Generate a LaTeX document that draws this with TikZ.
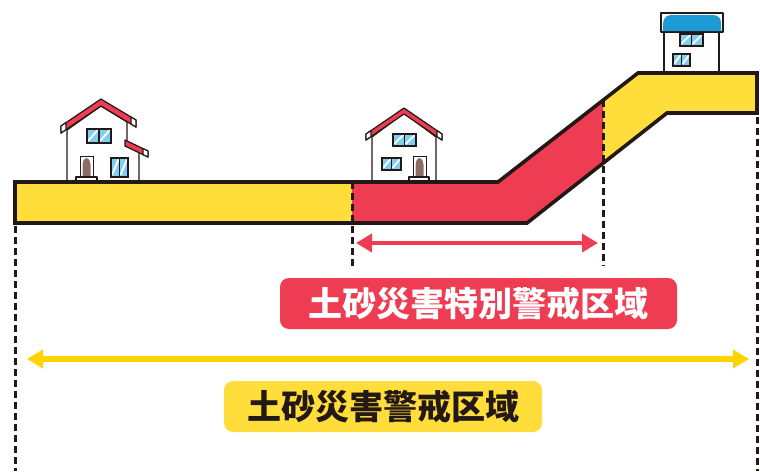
\documentclass[tikz,border=0pt]{standalone}
\usepackage{fontspec}
\newfontfamily\cjk{Noto Sans CJK JP}
\usetikzlibrary{arrows.meta}

\definecolor{bandyellow}{HTML}{FFDD3B}
\definecolor{arrowyellow}{HTML}{FFD400}
\definecolor{zonered}{HTML}{EE3D52}
\definecolor{inkblack}{HTML}{231815}
\definecolor{glass}{HTML}{7FCFF0}
\definecolor{roofblue}{HTML}{1E9AD6}
\definecolor{doorbrown}{HTML}{8B6B62}

% window with two panes: #1,#2 = top-left, #3,#4 = bottom-right
\newcommand\glasspane[4]{%
  \begin{scope}
    \clip (#1,#2) rectangle (#3,#4);
    \fill[glass] (#1,#2) rectangle (#3,#4);
    \draw[white, line width=1.8pt] ({#1+1},{#4-2}) -- ({#1+0.45*(#3-#1)},{#2+1});
    \draw[white, line width=1.8pt] ({(#1+#3)/2+1},{#4-2}) -- ({#1+0.95*(#3-#1)},{#2+1});
  \end{scope}
  \draw[inkblack, line width=1.1pt] (#1,#2) rectangle (#3,#4);
  \draw[inkblack, line width=1.1pt] ({(#1+#3)/2},#2) -- ({(#1+#3)/2},#4);
}
% door with arched brown leaf: frame corners as above
\newcommand\archeddoor[4]{%
  \filldraw[fill=white, draw=inkblack, line width=1pt] (#1,#2) rectangle (#3,#4);
  \fill[doorbrown] ({#1+2.5},#4) -- ({#1+2.5},{#2+9})
    .. controls ({#1+3},{#2+4}) and ({(#1+#3)/2-2},{#2+2}) .. ({(#1+#3)/2},{#2+2})
    .. controls ({(#1+#3)/2+2},{#2+2}) and ({#3-3},{#2+4}) .. ({#3-2.5},{#2+9})
    -- ({#3-2.5},#4) -- cycle;
}

\tikzset{
  houseline/.style={draw=inkblack, line width=1.2pt, line join=round},
  wall/.style={houseline, fill=white},
  redroof/.style={houseline, fill=zonered},
  bandline/.style={draw=inkblack, line width=3.6pt, line join=miter},
  guide/.style={draw=inkblack, line width=3pt, dash pattern=on 7pt off 4pt},
  zonelabel/.style={rounded corners=9pt, inner sep=0pt, font=\cjk\bfseries\fontsize{34}{34}\selectfont},
  span/.style={line width=#1, -{Triangle[length=16pt,width=18pt]}},
}

\begin{document}
\begin{tikzpicture}[x=1pt, y=-1pt]
\useasboundingbox (0,0) rectangle (760,471);

% ---- band corners ----
\coordinate (bL1) at (15,182);
\coordinate (bTk) at (498,182);
\coordinate (bTu) at (638,73);
\coordinate (bR1) at (757,73);
\coordinate (bR2) at (757,113);
\coordinate (bBu) at (667,113);
\coordinate (bBk) at (527,223);
\coordinate (bL2) at (15,223);
\coordinate (sT) at (352,182);
\coordinate (sB) at (352,223);
\coordinate (eT) at (603,100.3);
\coordinate (eB) at (603,163.3);

% ---- house on the left ----
\filldraw[wall] (67,130) -- (101,106) -- (127,122) -- (127,142) -- (139,149) -- (139,182) -- (67,182) -- cycle;
\filldraw[redroof] (61,126) -- (101,99) -- (136,120) -- (136,127) -- (101,106) -- (61,133) -- cycle;
\filldraw[wall] (61,126) -- (66,122.6) -- (66,129.6) -- (61,133) -- cycle;
\filldraw[wall] (136,120) -- (131,117) -- (131,124) -- (136,127) -- cycle;
\filldraw[redroof] (125,140) -- (148,151) -- (148,157) -- (125,146) -- cycle;
\filldraw[wall] (148,151) -- (143,148.6) -- (143,154.6) -- (148,157) -- cycle;
\glasspane{87}{129}{111}{143}
\archeddoor{80}{156}{93}{177}
\filldraw[wall] (76,177) rectangle (97,182);
\glasspane{111}{158}{128}{177}

% ---- house in the middle ----
\filldraw[wall] (372,137) -- (404,113) -- (436,137) -- (436,182) -- (372,182) -- cycle;
\filldraw[redroof] (366,134) -- (404,108) -- (442,134) -- (442,140) -- (404,114) -- (366,140) -- cycle;
\filldraw[wall] (366,134) -- (371,130.6) -- (371,136.6) -- (366,140) -- cycle;
\filldraw[wall] (442,134) -- (437,130.6) -- (437,136.6) -- (442,140) -- cycle;
\glasspane{393}{134}{416}{146}
\glasspane{382}{158}{401}{170}
\archeddoor{413}{156}{426}{177}
\filldraw[wall] (409,177) rectangle (429,182);

% ---- house on the hilltop ----
\filldraw[wall] (664,32) rectangle (719,73);
\filldraw[wall] (661,13) rectangle (723,32);
\fill[roofblue] (663,31) -- (663,24) .. controls (664,16) and (667,15) .. (674,15) -- (711,15)
  .. controls (719,15) and (721,18) .. (721,24) -- (721,31) -- cycle;
\glasspane{680}{34}{703}{46}
\glasspane{673}{54}{690}{66}

% ---- ground band ----
\fill[bandyellow] (bL1) -- (bTk) -- (bTu) -- (bR1) -- (bR2) -- (bBu) -- (bBk) -- (bL2) -- cycle;
\fill[zonered] (sT) -- (bTk) -- (eT) -- (eB) -- (bBk) -- (sB) -- cycle;
\draw[bandline] (bL1) -- (bTk) -- (bTu) -- (bR1) -- (bR2) -- (bBu) -- (bBk) -- (bL2) -- cycle;

% ---- boundary guides ----
\coordinate (gL) at (15,471);
\coordinate (gS) at (352,266);
\coordinate (gE) at (603,266);
\coordinate (gR) at (757,471);
\draw[guide] (bL2) ++(0,3) -- (gL);
\draw[guide] (sT) -- (gS);
\draw[guide] (eT) -- (gE);
\draw[guide] (bR2) ++(0,4) -- (gR);

% ---- extent arrows ----
\coordinate (ra1) at (356,243);
\coordinate (ra2) at (598,243);
\draw[span=4.2pt, draw=zonered, fill=zonered, {Triangle[length=16pt,width=18pt]}-{Triangle[length=16pt,width=18pt]}] (ra1) -- (ra2);
\coordinate (ya1) at (27,359);
\coordinate (ya2) at (749,359);
\draw[span=5.5pt, draw=arrowyellow, fill=arrowyellow, {Triangle[length=16pt,width=18pt]}-{Triangle[length=16pt,width=18pt]}] (ya1) -- (ya2);

% ---- zone labels ----
\node[zonelabel, fill=zonered, text=white, minimum width=397pt, minimum height=51pt] (special) at (478.5,303.5) {土砂災害特別警戒区域};
\node[zonelabel, fill=bandyellow, text=inkblack, minimum width=318pt, minimum height=51pt] (warning) at (383,406.5) {土砂災害警戒区域};
\end{tikzpicture}
\end{document}
